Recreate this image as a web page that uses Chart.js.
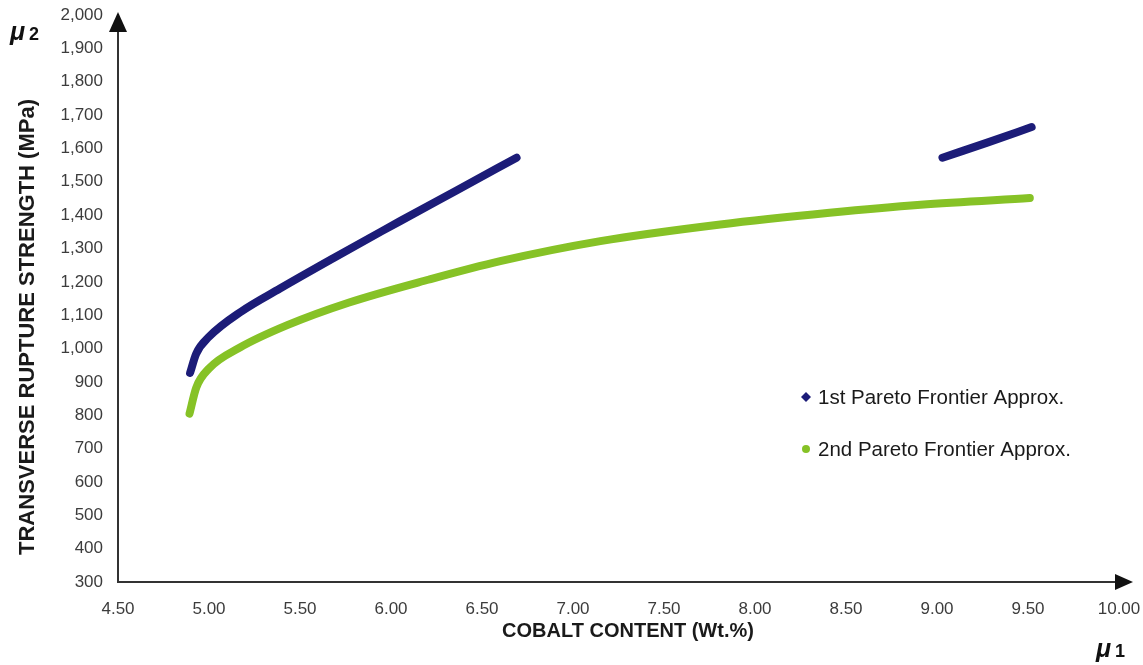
<!DOCTYPE html>
<html>
<head>
<meta charset="utf-8">
<script src="https://cdn.jsdelivr.net/npm/chart.js@4.4.1/dist/chart.umd.min.js"></script>
<style>
  html, body { margin: 0; padding: 0; background: #ffffff; }
  #wrap { width: 1143px; height: 665px; position: relative; }
</style>
</head>
<body>
<div id="wrap"><canvas id="chart" width="1143" height="665"></canvas></div>
<script>
// Cobalt content (wt.%) vs transverse rupture strength (MPa)
const firstFrontX = [4.896, 4.93, 5.00, 5.18, 5.39, 5.68, 5.95, 6.05, 6.36, 6.69];
const firstFrontY = [927, 985, 1035, 1112, 1180, 1270, 1352, 1382, 1474, 1572];
const firstFrontUpperX = [9.03, 9.28, 9.52];
const firstFrontUpperY = [1572, 1618, 1664];
const secondFrontX = [4.893, 4.93, 5.00, 5.17, 5.43, 5.77, 6.21, 6.60, 7.15, 7.81, 8.41, 8.91, 9.51];
const secondFrontY = [805, 883, 940, 1003, 1070, 1138, 1207, 1262, 1322, 1372, 1407, 1431, 1451];

const xTicks = [4.5, 5.0, 5.5, 6.0, 6.5, 7.0, 7.5, 8.0, 8.5, 9.0, 9.5, 10.0];
const yTicks = [300, 400, 500, 600, 700, 800, 900, 1000, 1100, 1200, 1300, 1400, 1500, 1600, 1700, 1800, 1900, 2000];

const seriesNames = ['1st Pareto Frontier Approx.', '2nd Pareto Frontier Approx.'];
const NAVY = '#1c1c78';
const GREEN = '#86c226';
const AXIS = '#333333';
const FONT = "'Liberation Sans', Arial, Helvetica, sans-serif";

const toPoints = (xs, ys) => xs.map((x, i) => ({ x: x, y: ys[i] }));

const lineStyle = {
  showLine: true,
  pointRadius: 0,
  pointHoverRadius: 0,
  borderWidth: 8,
  borderCapStyle: 'round',
  borderJoinStyle: 'round',
  cubicInterpolationMode: 'monotone',
  fill: false
};

// Arrows, axis symbols, axis titles and legend
const decorations = {
  id: 'decorations',
  afterDraw(chart) {
    const ctx = chart.ctx;
    const a = chart.chartArea;
    ctx.save();

    // arrow heads on both axes
    ctx.fillStyle = '#111';
    ctx.beginPath();
    ctx.moveTo(a.left, a.top - 3);
    ctx.lineTo(a.left - 9, a.top + 17);
    ctx.lineTo(a.left + 9, a.top + 17);
    ctx.closePath();
    ctx.fill();

    ctx.beginPath();
    ctx.moveTo(a.right + 14, a.bottom);
    ctx.lineTo(a.right - 4, a.bottom - 8);
    ctx.lineTo(a.right - 4, a.bottom + 8);
    ctx.closePath();
    ctx.fill();

    // objective symbols
    ctx.fillStyle = '#111';
    ctx.textAlign = 'left';
    ctx.textBaseline = 'alphabetic';
    ctx.font = 'bold italic 25px ' + FONT;
    ctx.fillText('μ', 10, 40);
    ctx.font = 'bold 18px ' + FONT;
    ctx.fillText('2', 29, 40);
    ctx.font = 'bold italic 25px ' + FONT;
    ctx.fillText('μ', 1096, 657);
    ctx.font = 'bold 18px ' + FONT;
    ctx.fillText('1', 1115, 657);

    // axis titles
    ctx.fillStyle = '#1a1a1a';
    ctx.textAlign = 'center';
    ctx.textBaseline = 'middle';
    ctx.font = 'bold 20px ' + FONT;
    ctx.fillText('COBALT CONTENT (Wt.%)', 628, 631);
    ctx.save();
    ctx.translate(28, 327);
    ctx.rotate(-Math.PI / 2);
    ctx.font = 'bold 22px ' + FONT;
    ctx.fillText('TRANSVERSE RUPTURE STRENGTH (MPa)', 0, 0);
    ctx.restore();

    // legend
    const entries = [
      { text: seriesNames[0], color: NAVY, shape: 'diamond', y: 397 },
      { text: seriesNames[1], color: GREEN, shape: 'circle', y: 449 }
    ];
    ctx.textAlign = 'left';
    ctx.textBaseline = 'middle';
    ctx.font = '20.5px ' + FONT;
    entries.forEach(e => {
      ctx.fillStyle = e.color;
      ctx.beginPath();
      if (e.shape === 'diamond') {
        ctx.moveTo(806, e.y - 5);
        ctx.lineTo(811, e.y);
        ctx.lineTo(806, e.y + 5);
        ctx.lineTo(801, e.y);
        ctx.closePath();
      } else {
        ctx.arc(806, e.y, 4, 0, Math.PI * 2);
      }
      ctx.fill();
      ctx.fillStyle = '#1a1a1a';
      ctx.fillText(e.text, 818, e.y + 1);
    });

    ctx.restore();
  }
};

new Chart(document.getElementById('chart'), {
  type: 'scatter',
  data: {
    datasets: [
      Object.assign({ label: seriesNames[0], data: toPoints(firstFrontX, firstFrontY), borderColor: NAVY, backgroundColor: NAVY }, lineStyle),
      Object.assign({ label: seriesNames[0], data: toPoints(firstFrontUpperX, firstFrontUpperY), borderColor: NAVY, backgroundColor: NAVY }, lineStyle),
      Object.assign({ label: seriesNames[1], data: toPoints(secondFrontX, secondFrontY), borderColor: GREEN, backgroundColor: GREEN }, lineStyle)
    ]
  },
  options: {
    responsive: false,
    devicePixelRatio: 1,
    animation: false,
    layout: { padding: { left: 0, top: 15, right: 24, bottom: 0 } },
    plugins: { legend: { display: false }, tooltip: { enabled: false } },
    scales: {
      x: {
        type: 'linear',
        min: 4.5,
        max: 10,
        afterBuildTicks: s => { s.ticks = xTicks.map(v => ({ value: v })); },
        afterFit: s => { s.height = 83; s.paddingLeft = 0; s.paddingRight = 0; },
        grid: { display: false, drawTicks: false },
        border: { display: true, color: AXIS, width: 2 },
        ticks: {
          padding: 17,
          color: '#3c3c3c',
          font: { family: FONT, size: 17 },
          maxRotation: 0,
          autoSkip: false,
          callback: v => Number(v).toFixed(2)
        }
      },
      y: {
        type: 'linear',
        min: 300,
        max: 2000,
        afterBuildTicks: s => { s.ticks = yTicks.map(v => ({ value: v })); },
        afterFit: s => { s.width = 118; s.paddingTop = 0; s.paddingBottom = 0; },
        grid: { display: false, drawTicks: false },
        border: { display: true, color: AXIS, width: 2 },
        ticks: {
          padding: 15,
          color: '#3c3c3c',
          font: { family: FONT, size: 17 },
          autoSkip: false,
          callback: v => Number(v).toLocaleString('en-US')
        }
      }
    }
  },
  plugins: [decorations]
});
</script>
</body>
</html>
